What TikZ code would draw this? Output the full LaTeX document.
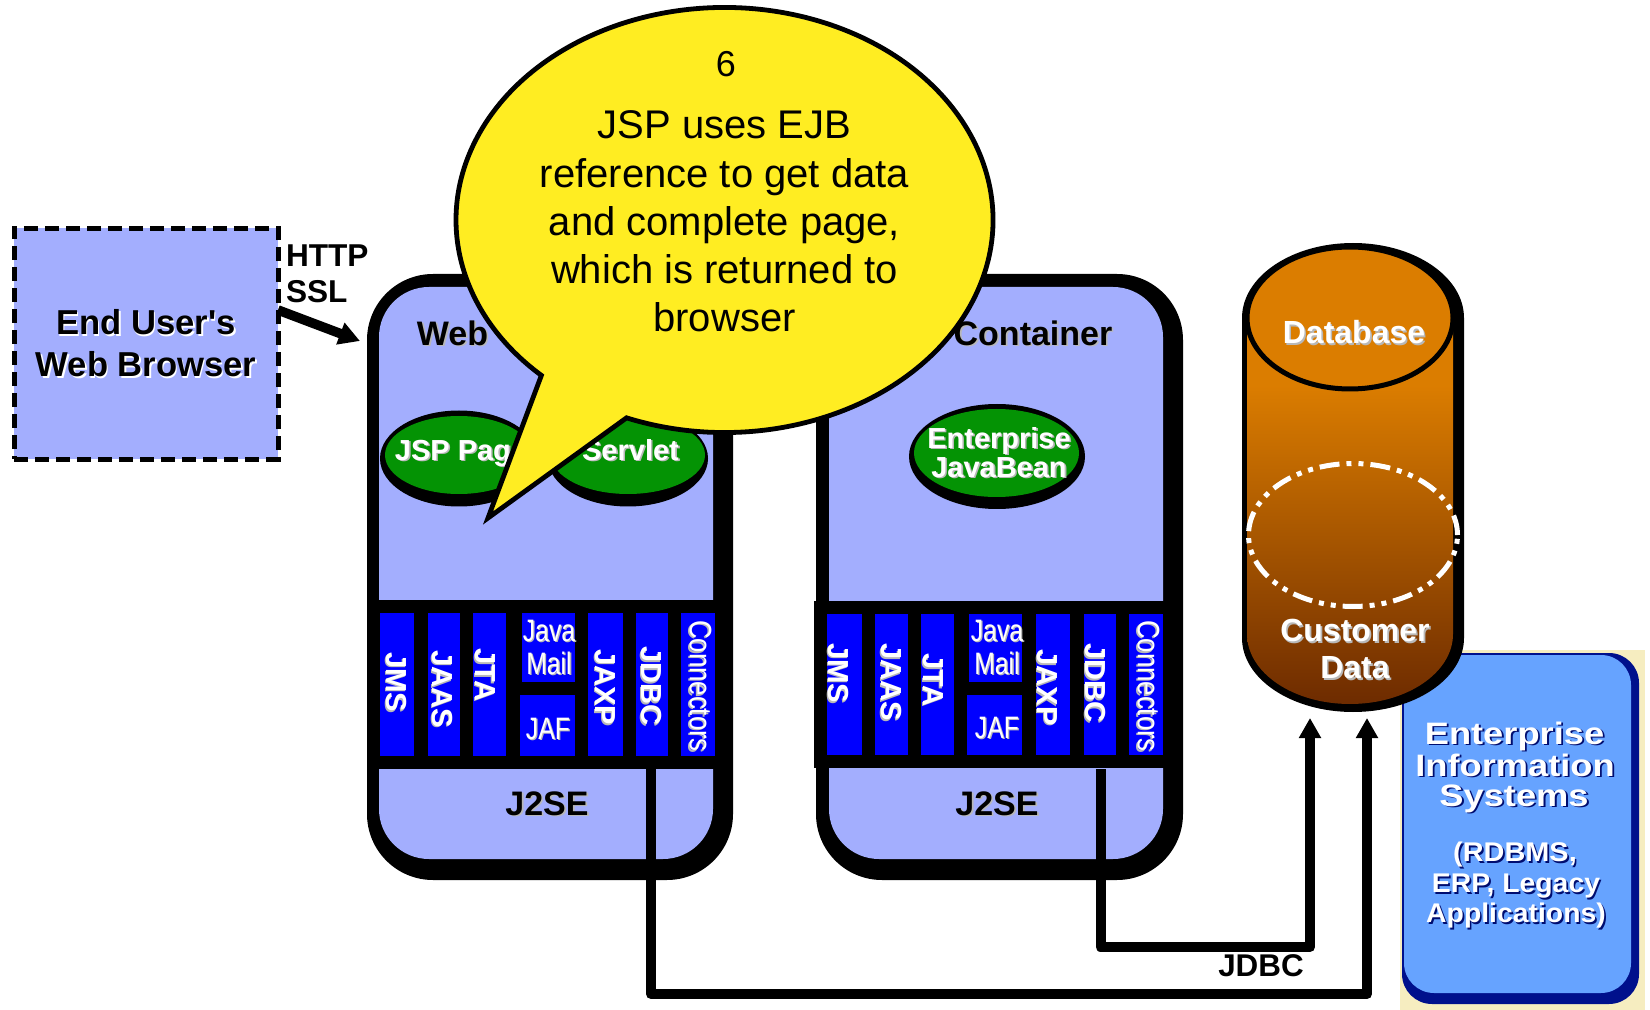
\documentclass[tikz,border=0pt]{standalone}
\usepackage{fontspec}
\setmainfont{Liberation Sans}[Ligatures=TeXOff]
\usetikzlibrary{arrows.meta}
\definecolor{lightblue}{HTML}{A3AEFE}
\definecolor{jgreen}{HTML}{049304}
\definecolor{calloutyellow}{HTML}{FFED22}
\definecolor{eisblue}{HTML}{66A3FF}
\definecolor{eisdark}{HTML}{00108C}
\definecolor{eisbg}{HTML}{F6EDC0}
\definecolor{softgray}{HTML}{B8B8B8}
\pgfdeclareverticalshading{cylshade}{100bp}{rgb(0bp)=(0.43,0.17,0);rgb(25bp)=(0.43,0.17,0);rgb(60bp)=(0.86,0.49,0);rgb(100bp)=(0.86,0.49,0)}
\newcommand\shad[3]{\makebox[0pt][l]{\hspace{.8pt}\raisebox{-.8pt}{\textcolor{#2}{#3}}}\textcolor{#1}{#3}}
\newcommand\capb[1]{\raisebox{0pt}[.716em][0pt]{#1}}
\newcommand\wt[1]{\capb{\shad{white}{softgray}{#1}}}
\newcommand\bt[1]{\capb{\shad{black}{softgray}{#1}}}
\newcommand\et[2]{\capb{\scalebox{#1}[1]{\shad{white}{eisdark!80!black}{#2}}}}
\newcommand\fsz[1]{\fontsize{#1}{#1}\selectfont}
\newcommand\colbox[5]{\node[colrect,minimum width={(#4-#2)*0.5pt},minimum height={(#5-#3)*0.5pt}] (#1) at ({(#2+#4)/2},{(#3+#5)/2}) {};}
\tikzset{
  labelbase/.style={inner sep=0pt,outer sep=0pt},
  colrect/.style={rectangle,fill=blue,draw=none,inner sep=0pt,outer sep=0pt},
  collab/.style={labelbase,font=\bfseries\fsz{14.5},rotate=-90},
  narrowlab/.style={labelbase,font=\fsz{15.5}},
  greenlab/.style={labelbase,font=\bfseries\fsz{14.5}},
  headlab/.style={labelbase,font=\bfseries\fsz{17}},
  dblab/.style={labelbase,font=\bfseries\fsz{16}},
  eisbig/.style={labelbase,font=\bfseries\fsz{15.5}},
  eissmall/.style={labelbase,font=\bfseries\fsz{13.5}},
  wire/.style={line width=5pt,line join=round,-{Triangle[length=10pt,width=10.5pt]}},
  container/.style={fill=black,rounded corners=33pt},
  containerin/.style={fill=lightblue,rounded corners=25pt},
  oval/.style={fill=jgreen}
}
\begin{document}
\begin{tikzpicture}[x=0.5pt,y=-0.5pt]
\useasboundingbox (0,0) rectangle (1650,1010);
% browser
\node[rectangle,fill=lightblue,draw=black,line width=2.5pt,dash pattern=on 7pt off 3.5pt,minimum width=132pt,minimum height=115.5pt,inner sep=0pt,align=center,font=\bfseries\fsz{17.3}] (browser) at (146,344) {\shad{black}{white}{End User's}\\[3.7pt]\shad{black}{white}{Web Browser}};
\node[labelbase,anchor=west,font=\bfseries\fsz{15.8}] (http) at (286,255) {\capb{HTTP}};
\node[labelbase,anchor=west,font=\bfseries\fsz{15.8}] (ssl) at (286,291) {\capb{SSL}};
% web container
\fill[container] (367,274) rectangle (733,880);
\fill[containerin] (379,287) rectangle (713,859);
\fill[black] (367,600) rectangle (733,769);
% ejb container
\fill[container] (816,274) rectangle (1183,880);
\fill[containerin] (829,287) rectangle (1163,859);
\fill[black] (814,601) rectangle (1183,768);
\node[headlab] (weblabel) at (452.5,333) {\bt{Web}};
\node[headlab] (ejblabel) at (1033,333) {\bt{Container}};
\node[headlab] (j2seweb) at (547,803) {\bt{J2SE}};
\node[headlab] (j2seejb) at (997,803) {\bt{J2SE}};
% ovals
\fill[black] (459,458.5) ellipse[x radius=39.5pt,y radius=24pt];
\fill[oval] (459,455) ellipse[x radius=37pt,y radius=19.5pt];
\fill[black] (628,458.5) ellipse[x radius=40pt,y radius=24pt];
\fill[oval] (628,455) ellipse[x radius=38.5pt,y radius=19.5pt];
\fill[black] (997,456.5) ellipse[x radius=44pt,y radius=26.25pt];
\fill[oval] (996.5,453) ellipse[x radius=41.25pt,y radius=22pt];
\node[greenlab] (jsppage) at (461,450) {\wt{JSP Page}};
\node[greenlab] (servlet) at (630.5,450) {\wt{Servlet}};
\node[greenlab] (ent) at (999,438) {\wt{Enterprise}};
\node[greenlab] (jbean) at (999,467) {\wt{JavaBean}};
% web columns
\colbox{wjms}{380}{613}{414}{756}
\colbox{wjaas}{428}{613}{460}{756}
\colbox{wjta}{473}{613}{506}{756}
\colbox{wmail}{522}{613}{575}{682}
\colbox{wjaf}{520}{695}{575}{756}
\colbox{wjaxp}{588}{613}{623}{756}
\colbox{wjdbc}{636}{613}{668}{756}
\colbox{wconn}{681}{613}{715}{756}
\node[collab] (wl1) at (397,682) {\wt{JMS}};
\node[collab] (wl2) at (443,689) {\wt{JAAS}};
\node[collab] (wl3) at (486,675) {\wt{JTA}};
\node[narrowlab] (wl4) at (549,630) {\capb{\scalebox{.8}[1]{\shad{white}{softgray}{Java}}}};
\node[narrowlab] (wl5) at (549,663) {\capb{\scalebox{.8}[1]{\shad{white}{softgray}{Mail}}}};
\node[narrowlab] (wl6) at (548,728) {\capb{\scalebox{.8}[1]{\shad{white}{softgray}{JAF}}}};
\node[collab] (wl7) at (606,687) {\wt{JAXP}};
\node[collab] (wl8) at (652,686) {\wt{JDBC}};
\node[narrowlab,rotate=-90] (wl9) at (701,686) {\capb{\scalebox{.83}[1]{\shad{white}{softgray}{Connectors}}}};
% ejb columns
\colbox{ejms}{827}{614}{862}{755}
\colbox{ejaas}{875}{614}{908}{755}
\colbox{ejta}{921}{614}{954}{755}
\colbox{email}{969}{614}{1022}{682}
\colbox{ejaf}{967}{695}{1022}{755}
\colbox{ejaxp}{1036}{614}{1070}{755}
\colbox{ejdbc}{1084}{614}{1116}{755}
\colbox{econn}{1129}{614}{1163}{755}
\node[collab] (el1) at (839,673) {\wt{JMS}};
\node[collab] (el2) at (892,682.5) {\wt{JAAS}};
\node[collab] (el3) at (934,680) {\wt{JTA}};
\node[narrowlab] (el4) at (997,630) {\capb{\scalebox{.8}[1]{\shad{white}{softgray}{Java}}}};
\node[narrowlab] (el5) at (997,663) {\capb{\scalebox{.8}[1]{\shad{white}{softgray}{Mail}}}};
\node[narrowlab] (el6) at (997,727) {\capb{\scalebox{.8}[1]{\shad{white}{softgray}{JAF}}}};
\node[collab] (el7) at (1048,687.5) {\wt{JAXP}};
\node[collab] (el8) at (1096,683) {\wt{JDBC}};
\node[narrowlab,rotate=-90] (el9) at (1149,686) {\capb{\scalebox{.83}[1]{\shad{white}{softgray}{Connectors}}}};
% arrow browser -> web container
\coordinate (brout) at (278,310);
\coordinate (webin) at (360,341);
\draw[line width=4.8pt,-{Triangle[length=10.5pt,width=11pt]}] (brout) -- (webin);
% EIS box
\fill[eisbg] (1400,650) rectangle (1645,1010);
\fill[eisdark,rounded corners=15pt] (1402,653) rectangle (1639,1004);
\fill[eisblue,rounded corners=15pt] (1404,655) rectangle (1631,993);
\node[eisbig] (eis1) at (1514.5,733) {\et{1.17}{Enterprise}};
\node[eisbig] (eis2) at (1515,765) {\et{1.17}{Information}};
\node[eisbig] (eis3) at (1514,795) {\et{1.17}{Systems}};
\node[eissmall] (eis4) at (1515,852) {\et{1.07}{(RDBMS,}};
\node[eissmall] (eis5) at (1516,883) {\et{1.05}{ERP, Legacy}};
\node[eissmall] (eis6) at (1516,913) {\et{1.05}{Applications)}};
% database
\fill[black] (1242,318) arc[start angle=180,end angle=0,x radius=55.5pt,y radius=37.5pt] -- (1464,638) arc[start angle=0,end angle=-180,x radius=55.5pt,y radius=37pt] -- cycle;
\shade[shading=cylshade] (1247,318) arc[start angle=180,end angle=0,x radius=51.5pt,y radius=35pt] -- (1453,634) arc[start angle=0,end angle=-180,x radius=51.5pt,y radius=35pt] -- cycle;
\draw[line width=2.5pt] (1350,318) ellipse[x radius=51.5pt,y radius=35.5pt];
\draw[white,line width=2.5pt,dash pattern=on 10pt off 3.5pt on 2.5pt off 3.5pt on 2.5pt off 3.5pt] (1353,535) ellipse[x radius=52.25pt,y radius=35.75pt];
\node[dblab] (dbname) at (1354,332) {\wt{Database}};
\node[dblab] (cdata1) at (1355,630) {\wt{Customer}};
\node[dblab] (cdata2) at (1355,667) {\wt{Data}};
% JDBC connectors
\coordinate (ejbout) at (1100.5,769);
\coordinate (ejbturn) at (1100.5,947);
\coordinate (dbturn1) at (1310,947);
\coordinate (dbin1) at (1310,718);
\coordinate (webout) at (651,769);
\coordinate (webturn) at (651,994);
\coordinate (dbturn2) at (1367,994);
\coordinate (dbin2) at (1367,718);
\draw[wire] (ejbout) -- (ejbturn) -- (dbturn1) -- (dbin1);
\draw[wire] (webout) -- (webturn) -- (dbturn2) -- (dbin2);
\node[labelbase,font=\bfseries\fsz{15.7}] (jdbclabel) at (1261,965) {\capb{JDBC}};
% callout
\coordinate (cc) at (724.5,220);
\coordinate (tailtip) at (488,518);
\filldraw[fill=calloutyellow,draw=black,line width=2.4pt,line join=miter]
  (cc) ++(248.6:134.25pt and 106.25pt) arc[start angle=248.6,end angle=587,x radius=134.25pt,y radius=106.25pt] -- (tailtip) -- cycle;
\node[labelbase,font=\fsz{18}] (stepnum) at (726,64) {\capb{6}};
\node[labelbase,align=center,font=\fsz{20}] (calltext) at (724.5,221.6) {JSP uses EJB\\[4.1pt]reference to get data\\[4.1pt]and complete page,\\[4.1pt]which is returned to\\[4.1pt]browser};
\end{tikzpicture}
\end{document}
